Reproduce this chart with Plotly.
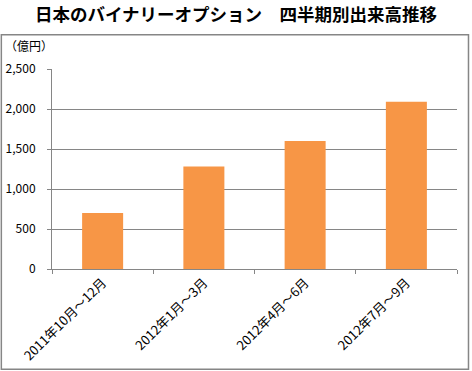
import plotly.graph_objects as go

categories = ["2011年10月～12月", "2012年1月～3月", "2012年4月～6月", "2012年7月～9月"]
values = [700, 1280, 1600, 2090]
y_tickvals = [0, 500, 1000, 1500, 2000, 2500]
y_ticktext = ["0", "500", "1,000", "1,500", "2,000", "2,500"]

FONT = "Noto Sans CJK JP"
GRAY = "#868686"

fig = go.Figure(go.Bar(x=categories, y=values, marker=dict(color="#F79646", line=dict(width=0)), width=0.405))

W, H = 472, 371
L, R, T, B = 51.7, 15, 69.3, 101.7
pw = W - L - R
ph = H - T - B

def px2paper_x(px):
    return (px - L) / pw

def px2paper_y(py):
    return (H - B - py) / ph

fig.update_layout(
    width=W, height=H,
    margin=dict(l=L, r=R, t=T, b=B, autoexpand=False),
    paper_bgcolor="white", plot_bgcolor="white",
    showlegend=False,
    font=dict(family=FONT, size=12, color="black"),
    title=dict(text="<b>日本のバイナリーオプション\u3000四半期別出来高推移</b>",
               x=0.5, xanchor="center", y=1 - 14.5 / H, yanchor="middle", yref="container",
               font=dict(family=FONT, size=17.5, color="black")),
    bargap=0.595,
)
fig.update_xaxes(
    showline=True, linecolor=GRAY, linewidth=1,
    ticks="outside", ticklen=4, tickcolor=GRAY, tickson="boundaries",
    tickangle=-45, tickfont=dict(family=FONT, size=13, color="black"),
    showgrid=False,
)
fig.update_yaxes(
    range=[0, 2500], tickvals=y_tickvals, ticktext=y_ticktext,
    showline=True, linecolor=GRAY, linewidth=1,
    ticks="outside", ticklen=4, tickcolor=GRAY,
    showgrid=True, gridcolor=GRAY, gridwidth=1,
    zeroline=False,
    tickfont=dict(family=FONT, size=12, color="black"),
    ticklabelstandoff=9,
)
fig.add_annotation(text="（億円）", xref="paper", yref="paper",
                   x=px2paper_x(3), y=px2paper_y(46), xanchor="left", yanchor="middle",
                   showarrow=False, font=dict(family=FONT, size=12, color="black"))
fig.add_shape(type="rect", xref="paper", yref="paper",
              x0=px2paper_x(1), x1=px2paper_x(468.5), y0=px2paper_y(369.5), y1=px2paper_y(35),
              line=dict(color=GRAY, width=1.5), fillcolor="rgba(0,0,0,0)", layer="below")

fig.write_html("out.html", config={"displayModeBar": False},
               post_script="document.body.style.margin='0';document.body.style.overflow='hidden';")
